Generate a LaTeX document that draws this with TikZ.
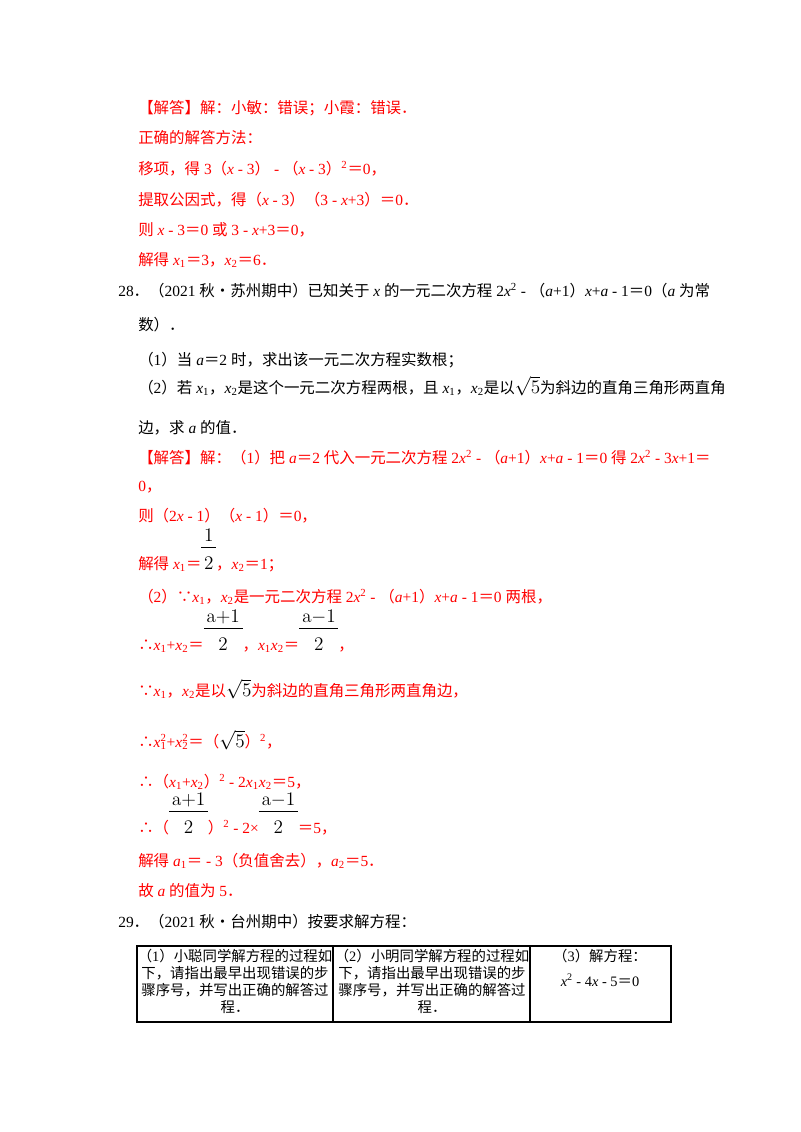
\documentclass[tikz,border=0pt]{standalone}
\usepackage[no-math]{fontspec}
\setmainfont{Noto Sans CJK SC}
\newfontfamily\ls{Liberation Serif}
\newcommand\T[1]{{\ls #1}}
\newcommand\I[1]{{\ls\itshape #1}}
\newcommand\sub[1]{{\ls\textsubscript{#1}}}
\newcommand\sps[1]{{\ls\textsuperscript{#1}}}
\newcommand\sbsp[2]{{\ls\rlap{\textsubscript{#1}}\textsuperscript{#2}}}
\newcommand\rt{{\Large$\sqrt{5}$}}
\newcommand\fr[2]{{\setlength\tabcolsep{2pt}\renewcommand\arraystretch{1.0}\begin{tabular}[b]{c}{\Large$\mathrm{#1}$}\\\hline\rule{0pt}{16pt}{\Large$#2$}\end{tabular}}}
\begin{document}
\begin{tikzpicture}[x=0.75pt,y=-0.75pt,
 t/.style={anchor=base west,inner sep=0pt,font=\fontsize{11.6}{14}\selectfont},
 r/.style={t,text=red},
 cell/.style={anchor=north,inner sep=0pt,align=center,font=\fontsize{10.8}{12.6}\selectfont}]
\useasboundingbox[fill=white] (0,0) rectangle (800,1132);
\node[r] (l1) at (138,113) {【解答】解：小敏：错误；小霞：错误．};
\node[r] (l2) at (138,143) {正确的解答方法：};
\node[r] (l3) at (138,174) {移项，得\T{ 3}（\I{x}\T{ - 3}）\T{ - }（\I{x}\T{ - 3}）\sps{2}＝\T{0}，};
\node[r] (l4) at (138,205) {提取公因式，得（\I{x}\T{ - 3}）（\T{3 - }\I{x}\T{+3}）＝\T{0}．};
\node[r] (l5) at (138,235) {则\I{ x}\T{ - 3}＝\T{0 }或\T{ 3 - }\I{x}\T{+3}＝\T{0}，};
\node[r] (l6) at (138,265) {解得\I{ x}\sub1＝\T3，\I{x}\sub2＝\T6．};
\node[t] (l7) at (118,296) {\T{28}．（\T{2021 }秋•苏州期中）已知关于\I{ x }的一元二次方程\T{ 2}\I{x}\sps2\T{ - }（\I{a}\T{+1}）\I{x}\T{+}\I{a}\T{ - 1}＝\T0（\I{a }为常};
\node[t] (l8) at (138,330) {数）．};
\node[t] (l9) at (138,365) {（\T1）当\I{ a}＝\T{2 }时，求出该一元二次方程实数根；};
\node[t] (l10) at (138,393) {（\T2）若\I{ x}\sub1，\I{x}\sub2是这个一元二次方程两根，且\I{ x}\sub1，\I{x}\sub2是以\rt 为斜边的直角三角形两直角};
\node[t] (l11) at (138,433) {边，求\I{ a }的值．};
\node[r] (l12) at (138,463) {【解答】解：（\T1）把\I{ a}＝\T{2 }代入一元二次方程\T{ 2}\I{x}\sps2\T{ - }（\I{a}\T{+1}）\I{x}\T{+}\I{a}\T{ - 1}＝\T{0 }得\T{ 2}\I{x}\sps2\T{ - 3}\I{x}\T{+1}＝};
\node[r] (l13) at (138,491) {\T0，};
\node[r] (l14) at (138,521) {则（\T2\I{x}\T{ - 1}）（\I{x}\T{ - 1}）＝\T0，};
\node[r] (l15) at (138,569) {解得\I{ x}\sub1＝\textcolor{black}{\fr{1}{2}}，\I{x}\sub2＝\T1；};
\node[r] (l16) at (138,602) {（\T2）∵\I{x}\sub1，\I{x}\sub2是一元二次方程\T{ 2}\I{x}\sps2\T{ - }（\I{a}\T{+1}）\I{x}\T{+}\I{a}\T{ - 1}＝\T{0 }两根，};
\node[r] (l17) at (138,650) {∴\I{x}\sub1\T+\I{x}\sub2＝\textcolor{black}{\fr{a{+}1}{2}}，\I{x}\sub1\I{x}\sub2＝\textcolor{black}{\fr{a{-}1}{2}}，};
\node[r] (l18) at (138,696) {∵\I{x}\sub1，\I{x}\sub2是以\textcolor{black}{\rt}为斜边的直角三角形两直角边，};
\node[r] (l19) at (138,747) {∴\I{x}\sbsp12\T+\I{x}\sbsp22＝（\textcolor{black}{\rt}）\sps2，};
\node[r] (l20) at (138,787) {∴（\I{x}\sub1\T+\I{x}\sub2）\sps2\T{ - 2}\I{x}\sub1\I{x}\sub2＝\T5，};
\node[r] (l21) at (138,833) {∴（\textcolor{black}{\fr{a{+}1}{2}}）\sps2\T{ - 2×}\textcolor{black}{\fr{a{-}1}{2}}＝\T5，};
\node[r] (l22) at (138,866) {解得\I{ a}\sub1＝\T{ - 3}（负值舍去），\I{a}\sub2＝\T5．};
\node[r] (l23) at (138,896) {故\I{ a }的值为\T{ 5}．};
\node[t] (l24) at (118,927) {\T{29}．（\T{2021 }秋•台州期中）按要求解方程：};
\draw[line width=0.9pt] (137,946) rectangle (671,1022);
\draw[line width=0.9pt] (333,946) -- (333,1022) (530,946) -- (530,1022);
\node[cell] (c1) at (235,949) {（\T1）小聪同学解方程的过程如\\下，请指出最早出现错误的步\\骤序号，并写出正确的解答过\\程．};
\node[cell] (c2) at (432,949) {（\T2）小明同学解方程的过程如\\下，请指出最早出现错误的步\\骤序号，并写出正确的解答过\\程．};
\node[cell] (c3) at (600,949) {（\T3）解方程：};
\node[cell] (c4) at (600,974) {\I{x}\sps2\T{ - 4}\I{x}\T{ - 5}＝\T0};
\end{tikzpicture}
\end{document}
